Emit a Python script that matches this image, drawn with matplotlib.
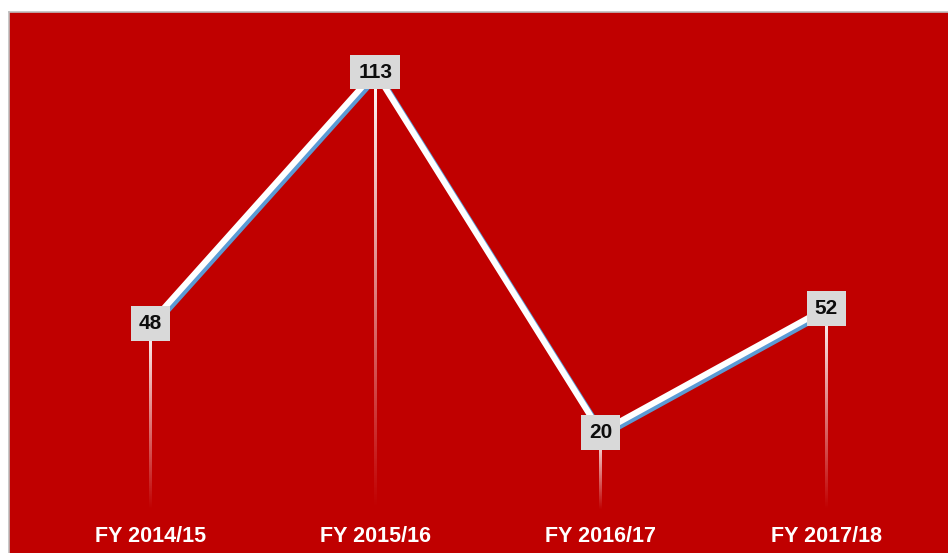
import numpy as np
import matplotlib.pyplot as plt
import matplotlib.patheffects as pe

# yearly counts
years = ["FY 2014/15", "FY 2015/16", "FY 2016/17", "FY 2017/18"]
counts = [48, 113, 20, 52]

RED = "#c00000"
BLUE = "#5b9bd5"

plt.rcParams["font.family"] = ["Liberation Sans", "DejaVu Sans"]

fig = plt.figure(figsize=(9.48, 5.53), dpi=100)
ax = fig.add_axes([9 / 948, 0, 939 / 948, 541 / 553])
ax.set_facecolor(RED)
x = np.arange(len(years))

# drop lines: white at the point, fading to transparent at the baseline
grad = np.ones((200, 1, 4))
grad[:, 0, 3] = np.linspace(1, 0, 200)
half_w = 0.0058
for xi, v in zip(x, counts):
    ax.imshow(grad, extent=[xi - half_w, xi + half_w, 0, v], origin="upper",
              aspect="auto", interpolation="bilinear", zorder=2)

# main line with blue shadow
ax.plot(x, counts, color="white", lw=4.4, solid_capstyle="butt", zorder=3,
        path_effects=[pe.SimpleLineShadow(offset=(2, -2), shadow_color=BLUE,
                                          alpha=1, linewidth=4.4),
                      pe.Normal()])

for xi, v in zip(x, counts):
    ax.text(xi, v, str(v), ha="center", va="center", fontsize=15,
            fontweight="bold", color="#0d0d0d", zorder=5,
            bbox=dict(boxstyle="square,pad=0.38", fc="#d9d9d9", ec="none"))

for xi, lab in zip(x, years):
    ax.text(xi, 0.031, lab, transform=ax.get_xaxis_transform(), ha="center",
            va="center", fontsize=15.5, fontweight="bold", color="white")

ax.set_xlim(-0.626, 3.541)
ax.set_ylim(-11.2, 128.5)
ax.set_xticks([])
ax.set_yticks([])
for s in ["right", "bottom"]:
    ax.spines[s].set_visible(False)
for s in ["top", "left"]:
    ax.spines[s].set_color("#bfbfbf")
    ax.spines[s].set_linewidth(1.2)

fig.savefig("out.png", dpi=100, facecolor="white")
